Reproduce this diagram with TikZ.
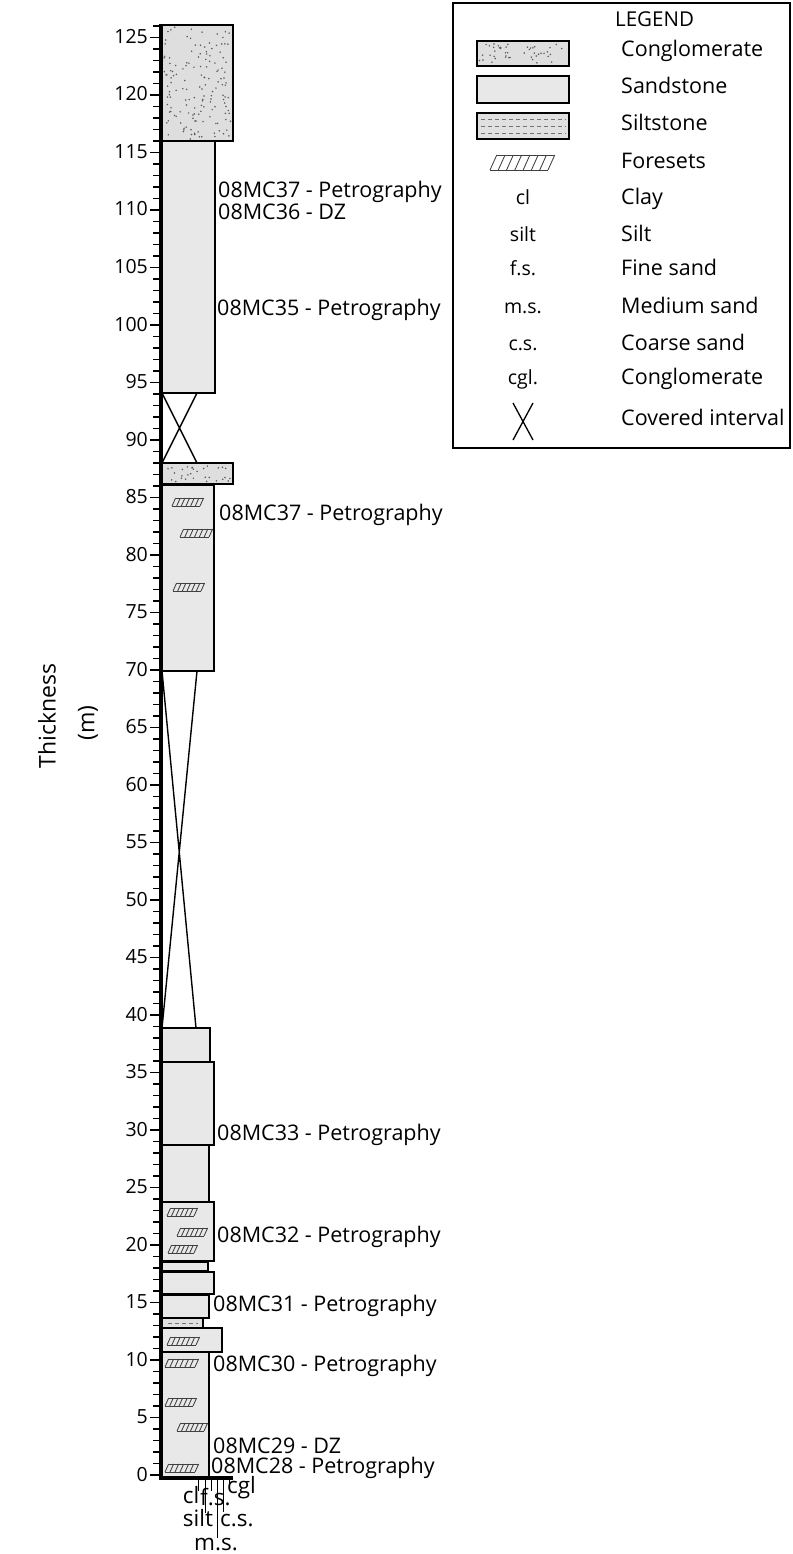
\documentclass[tikz,border=0pt]{standalone}
\usepackage{fontspec}
\setmainfont{Open Sans}
\newcommand{\cgldots}[6]{%
  \pgfmathsetseed{#6}%
  \foreach \k in {1,...,#5}{%
    \pgfmathsetmacro\rx{#1+2+rnd*(#3-#1-4)}%
    \pgfmathsetmacro\ry{#2+2+rnd*(#4-#2-4)}%
    \fill[black!65] (\rx,\ry) circle (0.85);}}
\newcommand{\fset}[5]{%
  \pgfmathsetmacro\fdx{(#3)/(#5)}%
  \draw[fsline] (#1,#2) -- ++(#3,0);
  \draw[fsline] ({#1+0.45*#4},{#2-#4}) -- ++(#3,0);
  \foreach \i in {0,...,#5}{\draw[fsline] ({#1+\i*\fdx},#2) -- ++({0.45*#4},{-#4});}}
\begin{document}
\begin{tikzpicture}[x=1pt,y=-1pt,
  sand/.style={draw=black,line width=2.4pt,fill=black!9},
  cglbed/.style={draw=black,line width=2.4pt,fill=black!13},
  siltbed/.style={draw=black,line width=2.4pt,fill=black!12},
  swatch/.style={draw=black,line width=1.8pt},
  cover/.style={draw=black,line width=1.4pt},
  fsline/.style={draw=black!75,line width=0.85pt},
  sdash/.style={draw=black!55,line width=0.7pt,dash pattern=on 4pt off 3pt},
  txt/.style={inner sep=0pt,font=\fontsize{19.5}{22}\selectfont},
  big/.style={inner sep=0pt,font=\fontsize{21.5}{24}\selectfont},
  gsz/.style={inner sep=0pt,font=\fontsize{22.5}{24}\selectfont},
  lbl/.style={big,anchor=base west},
  num/.style={txt,anchor=base east},
  leg/.style={big,anchor=base west},
  abbr/.style={txt,anchor=base},
  gs/.style={draw=black,line width=0.8pt}]
\useasboundingbox (0,0) rectangle (792,1554);
\fill[white] (0,0) rectangle (792,1554);

% covered intervals
\draw[cover] (162,393) -- (197,463) (197,393) -- (162,463);
\draw[cover] (162,671) -- (196,1028) (197,671) -- (162,1028);

% beds (bottom to top)
\draw[sand] (162,1352) rectangle (209,1477);
\draw[sand] (162,1328) rectangle (222,1352);
\draw[siltbed] (162,1318) rectangle (203,1328);
\draw[sdash] (168,1323) -- (198,1323);
\draw[sand] (162,1295) rectangle (209,1318);
\draw[sand] (162,1272) rectangle (214,1294);
\draw[sand] (162,1262) rectangle (208,1271);
\draw[sand] (162,1202) rectangle (214,1261);
\draw[sand] (162,1145) rectangle (209,1202);
\draw[sand] (162,1062) rectangle (214,1145);
\draw[sand] (162,1028) rectangle (210,1062);
\draw[sand] (162,671) rectangle (214,485);
\draw[cglbed] (162,463) rectangle (233,484);
\cgldots{162}{463}{233}{484}{30}{7}
\draw[sand] (162,141) rectangle (215,393);
\draw[cglbed] (162,25) rectangle (233,141);
\cgldots{162}{25}{233}{141}{150}{3}

% foresets in column
\fset{165}{1472}{30}{8}{6}
\fset{177}{1431}{27}{8}{6}
\fset{165}{1406}{28}{8}{6}
\fset{165}{1367}{30}{8}{6}
\fset{167}{1345}{29}{8}{6}
\fset{168}{1253}{26}{8}{6}
\fset{177}{1236}{27}{8}{6}
\fset{167}{1216}{27}{8}{6}
\fset{173}{591}{28}{8}{6}
\fset{180}{537}{29}{8}{6}
\fset{172}{506}{28}{8}{6}

% axis
\foreach \m in {0,...,126}{\draw[line width=1.1pt] (153,{1475-11.5*\m}) -- (161,{1475-11.5*\m});}
\foreach \m in {0,5,...,125}{\draw[line width=1.1pt] (150,{1475-11.5*\m}) -- (161,{1475-11.5*\m});
  \node[num] (n\m) at (148,{1481-11.5*\m}) {\m};}
\draw[line width=3.2pt] (161,24) -- (161,1479.6);
\draw[line width=3.2pt] (159.4,1478) -- (233,1478);

% grain size scale
\draw[gs] (198,1479) -- (198,1491);
\draw[gs] (205,1479) -- (205,1513);
\draw[gs] (211,1479) -- (211,1491);
\draw[gs] (217,1479) -- (217,1538);
\draw[gs] (223,1479) -- (223,1512);
\draw[gs] (229,1479) -- (229,1487);
\node[gsz,anchor=base] (gcl) at (191,1503) {cl};
\node[gsz,anchor=base west] (gfs) at (200,1505) {f.s.};
\node[gsz,anchor=base west] (gcgl) at (227,1493) {cgl};
\node[gsz,anchor=base] (gsilt) at (198,1526) {silt};
\node[gsz,anchor=base west] (gcs) at (220,1526) {c.s.};
\node[gsz,anchor=base] (gms) at (216,1550) {m.s.};

% thickness label
\node[rotate=90,inner sep=0pt,font=\fontsize{23}{26}\selectfont] (thk) at (47,716) {Thickness};
\node[rotate=90,inner sep=0pt,font=\fontsize{23}{26}\selectfont] (unit) at (88,723) {(m)};

% sample labels
\node[lbl] (s1) at (218,198) {08MC37 - Petrography};
\node[lbl] (s2) at (218,220) {08MC36 - DZ};
\node[lbl] (s3) at (217,315) {08MC35 - Petrography};
\node[lbl] (s4) at (219,520) {08MC37 - Petrography};
\node[lbl] (s5) at (217,1140) {08MC33 - Petrography};
\node[lbl] (s6) at (217,1242) {08MC32 - Petrography};
\node[lbl] (s7) at (213,1311) {08MC31 - Petrography};
\node[lbl] (s8) at (213,1371) {08MC30 - Petrography};
\node[lbl] (s9) at (213,1453) {08MC29 - DZ};
\node[lbl] (s10) at (211,1473) {08MC28 - Petrography};

% legend
\draw[line width=2pt] (453,3) rectangle (790,448);
\node[inner sep=0pt,anchor=base west,font=\fontsize{20.5}{22}\selectfont] (lt) at (615,27) {LEGEND};
\draw[swatch,fill=black!13] (477,41) rectangle (569,66);
\cgldots{477}{41}{569}{66}{45}{11}
\draw[swatch,fill=black!9] (477,76) rectangle (569,103);
\draw[swatch,fill=black!12] (477,113) rectangle (569,139);
\foreach \yy in {119,126,133}{\draw[sdash] (481,\yy) -- (566,\yy);}
\fset{490}{170}{58}{15}{7}
\node[abbr] (acl) at (523,205) {cl};
\node[abbr] (asilt) at (523,241) {silt};
\node[abbr] (afs) at (523,275) {f.s.};
\node[abbr] (ams) at (523,313) {m.s.};
\node[abbr] (acs) at (523,350) {c.s.};
\node[abbr] (acgl) at (523,384) {cgl.};
\draw[line width=1.3pt] (513,403) -- (533,440) (533,403) -- (513,440);
\node[leg] (l1) at (621,57) {Conglomerate};
\node[leg] (l2) at (621,94) {Sandstone};
\node[leg] (l3) at (621,131) {Siltstone};
\node[leg] (l4) at (621,169) {Foresets};
\node[leg] (l5) at (621,205) {Clay};
\node[leg] (l6) at (621,241) {Silt};
\node[leg] (l7) at (621,275) {Fine sand};
\node[leg] (l8) at (621,313) {Medium sand};
\node[leg] (l9) at (621,350) {Coarse sand};
\node[leg] (l10) at (621,384) {Conglomerate};
\node[leg] (l11) at (621,425) {Covered interval};
\end{tikzpicture}
\end{document}
